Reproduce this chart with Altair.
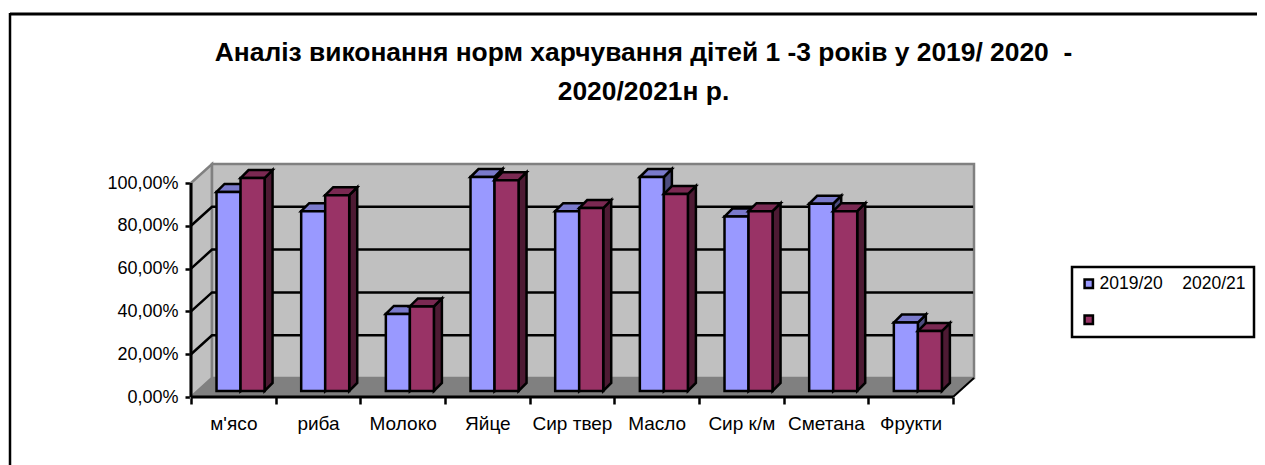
import altair as alt
import pandas as pd

categories = ["м'ясо", "риба", "Молоко", "Яйце", "Сир твер", "Масло", "Сир к/м", "Сметана", "Фрукти"]
series_2019 = [0.93, 0.84, 0.36, 1.00, 0.84, 1.00, 0.815, 0.875, 0.32]
series_2020 = [0.995, 0.915, 0.395, 0.985, 0.855, 0.92, 0.84, 0.84, 0.28]
labels = ["2019/20\u00a0\u00a0\u00a0\u00a02020/21", "\u00a0"]
front_colors = ["#9999FF", "#993366"]
top_colors = ["#7A7ACC", "#7A2952"]
side_colors = ["#4D4D80", "#4D1A33"]
title_lines = ["Аналіз виконання норм харчування дітей 1 -3 років у 2019/ 2020\u00a0\u00a0-", "2020/2021н р."]

FONT = "Liberation Sans"
PW, PH = 783, 233
WALL_X = 21 / 84.6      # depth of the walls, category units
WALL_Y = 19 / 214       # depth of the walls, value units
XMAX = 9 + WALL_X
YMAX = 1 + WALL_Y
BAR_OFF = 25.5 / 84.6
BAR_W = 24 / 84.6
BAR_DX = 8 / 84.6
BAR_DY = 8 / 214
BAR_BASE = 6 / 214

sx = alt.Scale(domain=[0, XMAX], nice=False, zero=False)
sy = alt.Scale(domain=[0, YMAX], nice=False, zero=False)
cat_js = "[" + ",".join("'" + c.replace("'", "\\'") + "'" for c in categories) + "]"
x_ax = alt.Axis(
    values=[i / 2 for i in range(19)],
    labelExpr="datum.value % 1 == 0 ? '' : " + cat_js + "[floor(datum.value)]",
    tickOpacity={"condition": {"test": "datum.value % 1 == 0", "value": 1}, "value": 0},
    domain=False, grid=False, title=None, tickColor="black", tickWidth=2.5, tickSize=7,
    labelFont=FONT, labelFontSize=19, labelColor="black", labelPadding=10, labelAngle=0,
    labelOverlap=False, labelBound=False, labelFlush=False)
y_ax = alt.Axis(
    values=[0, 0.2, 0.4, 0.6, 0.8, 1.0],
    labelExpr="replace(format(datum.value, '.2%'), '.', ',')",
    domain=False, grid=False, title=None, tickColor="black", tickWidth=2.5, tickSize=6,
    labelFont=FONT, labelFontSize=18, labelColor="black", labelPadding=7)
X = lambda f="x": alt.X(f"{f}:Q", scale=sx, axis=x_ax)
Y = lambda f="y": alt.Y(f"{f}:Q", scale=sy, axis=y_ax, stack=None)


def area(rows, **mark):
    return alt.Chart(pd.DataFrame(rows)).mark_area(**mark).encode(
        x=X(), y=Y(), y2=alt.Y2("y2:Q"), detail="k:N")


# walls and floor
side_wall = area(
    [dict(k=0, x=0, y=1, y2=0), dict(k=0, x=WALL_X, y=YMAX, y2=WALL_Y)],
    fill="#C0C0C0", stroke="#808080", strokeWidth=2.5)
back_wall = alt.Chart(pd.DataFrame([dict(x=WALL_X, x2=XMAX, y=WALL_Y, y2=YMAX)])).mark_rect(
    fill="#C0C0C0", stroke="#808080", strokeWidth=2.5
).encode(x=X(), x2="x2:Q", y=Y(), y2="y2:Q")
floor = area(
    [dict(k=0, x=0, y=0, y2=0), dict(k=0, x=WALL_X, y=WALL_Y, y2=0),
     dict(k=0, x=9, y=WALL_Y, y2=0), dict(k=0, x=XMAX, y=WALL_Y, y2=WALL_Y)],
    fill="#808080", stroke="#808080", strokeWidth=1)

grid_rows = []
for v in [0.2, 0.4, 0.6, 0.8]:
    grid_rows += [dict(k=v, x=0, y=v), dict(k=v, x=WALL_X, y=v + WALL_Y), dict(k=v, x=XMAX - 0.01, y=v + WALL_Y)]
grid = alt.Chart(pd.DataFrame(grid_rows)).mark_line(color="black", strokeWidth=2.5).encode(
    x=X(), y=Y(), detail="k:N")
floor_edge = alt.Chart(pd.DataFrame([dict(x=9, y=0), dict(x=XMAX, y=WALL_Y)])).mark_line(
    color="black", strokeWidth=2).encode(x=X(), y=Y())

# axes
x_axis = alt.Chart(pd.DataFrame([dict(x=0, x2=9, y=0)])).mark_rule(color="black", strokeWidth=3).encode(
    x=X(), x2="x2:Q", y=Y())
y_axis = alt.Chart(pd.DataFrame([dict(x=0, y=0, y2=1)])).mark_rule(color="black", strokeWidth=3).encode(
    x=X(), y=Y(), y2="y2:Q")


def bars(s, values):
    side_rows, top_rows, front_rows = [], [], []
    for i, v in enumerate(values):
        x0 = i + BAR_OFF + s * BAR_W
        x1 = x0 + BAR_W
        base = BAR_BASE
        top = BAR_BASE + v
        side_rows += [dict(k=i, x=x1, y=top, y2=base), dict(k=i, x=x1 + BAR_DX, y=top + BAR_DY, y2=base + BAR_DY)]
        top_rows += [dict(k=i, x=x0, y=top, y2=top), dict(k=i, x=x0 + BAR_DX, y=top + BAR_DY, y2=top),
                     dict(k=i, x=x1, y=top + BAR_DY, y2=top), dict(k=i, x=x1 + BAR_DX, y=top + BAR_DY, y2=top + BAR_DY)]
        front_rows.append(dict(x=x0, x2=x1, y=base, y2=top, series=labels[s]))
    stroke = dict(stroke="black", strokeWidth=2.5, strokeJoin="miter")
    return [
        area(side_rows, fill=side_colors[s], **stroke),
        area(top_rows, fill=top_colors[s], **stroke),
        alt.Chart(pd.DataFrame(front_rows)).mark_rect(**stroke).encode(
            x=X(), x2="x2:Q", y=Y(), y2="y2:Q",
            color=alt.Color("series:N",
                            scale=alt.Scale(domain=labels, range=front_colors),
                            legend=alt.Legend(
                                title=None, orient="none", legendX=881, legendY=103,
                                fillColor="white", strokeColor="black", padding=8,
                                symbolType="square", symbolSize=70, symbolStrokeColor="black",
                                symbolStrokeWidth=2.5, symbolOpacity=1,
                                labelFont=FONT, labelFontSize=17.5, labelColor="black",
                                labelLimit=0, rowPadding=17, labelOffset=2))),
    ]


# chart frame (top and left edges; the others are cut off in the picture)
frame_top = alt.Chart(pd.DataFrame([dict(a=1)])).mark_rule(color="black", strokeWidth=3).encode(
    x=alt.value(-181), x2=alt.value(1100), y=alt.value(-150))
frame_left = alt.Chart(pd.DataFrame([dict(a=1)])).mark_rule(color="black", strokeWidth=2.5).encode(
    x=alt.value(-181), y=alt.value(-151), y2=alt.value(320))

layers = [frame_top, frame_left, side_wall, back_wall, floor, grid, floor_edge, x_axis, y_axis]
layers += bars(0, series_2019) + bars(1, series_2020)

chart = alt.layer(*layers).resolve_scale(color="shared").properties(
    width=PW, height=PH, background="white",
    padding={"left": 183, "top": 156, "right": 283, "bottom": 68},
    autosize=alt.AutoSizeParams(type="none"),
    title=alt.TitleParams(text=title_lines, font=FONT, fontWeight="bold", fontSize=26.4,
                          lineHeight=39, color="black", anchor="middle", dx=61, offset=-94,
                          frame="group"),
).configure_view(stroke=None).configure_legend(strokeWidth=2.5)

chart.save("out.html", embed_options={"renderer": "svg", "actions": False})
